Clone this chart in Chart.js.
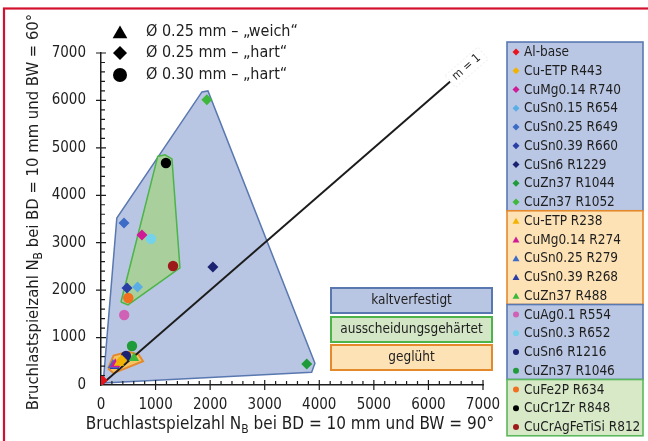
<!DOCTYPE html>
<html>
<head>
<meta charset="utf-8">
<script src="https://cdn.jsdelivr.net/npm/chart.js@4/dist/chart.umd.min.js"></script>
<style>
  html, body { margin: 0; padding: 0; background: #ffffff; }
  #wrap { position: relative; width: 648px; height: 441px; overflow: hidden; }
  canvas { display: block; }
</style>
</head>
<body>
<div id="wrap"><canvas id="c" width="648" height="441"></canvas></div>
<script>
// ---- axis setup ----
const axisMax = 7000;
const majorStep = 1000;
const minorStep = 200;

// ---- material series (one point each) ----
const seriesNames = [
  'Al-base', 'Cu-ETP R443', 'CuMg0.14 R740', 'CuSn0.15 R654', 'CuSn0.25 R649',
  'CuSn0.39 R660', 'CuSn6 R1229', 'CuZn37 R1044', 'CuZn37 R1052',
  'Cu-ETP R238', 'CuMg0.14 R274', 'CuSn0.25 R279', 'CuSn0.39 R268', 'CuZn37 R488',
  'CuAg0.1 R554', 'CuSn0.3 R652', 'CuSn6 R1216', 'CuZn37 R1046',
  'CuFe2P R634', 'CuCr1Zr R848', 'CuCrAgFeTiSi R812'
];
// N_B at BW = 90°
const seriesX = [20, 380, 750, 670, 421, 476, 2050, 3770, 1940,
                 330, 260, 220, 250, 604,
                 425, 916, 458, 568,
                 500, 1190, 1320];
// N_B at BW = 60°
const seriesY = [100, 520, 3165, 2067, 3418, 2046, 2490, 443, 6013,
                 470, 440, 422, 400, 570,
                 1476, 3080, 612, 823,
                 1835, 4680, 2510];

// legend groups (number of entries per framed block)
const groupSizes = [9, 5, 4, 3];

// ---- treatment regions (polygon corners) ----
const kaltX = [40, 290, 1850, 1960, 3920, 3860, 40];
const kaltY = [40, 3520, 6180, 6200, 460, 270, 40];
const ausX = [366, 1040, 1172, 1300, 1447, 495, 366];
const ausY = [1751, 4820, 4852, 4768, 2468, 1688, 1751];
const geglX = [130, 230, 500, 690, 770, 230, 130];
const geglY = [350, 620, 700, 640, 500, 250, 350];
const regionLabels = ['kaltverfestigt', 'ausscheidungsgehärtet', 'geglüht'];

// ---- reference line m = 1 ----
const diagX = [0, 6400];
const diagY = [0, 6400];
const diagLabel = 'm = 1';
const diagLabelAt = 6700;

// ---- marker-shape key ----
const symbolTexts = ['Ø 0.25 mm – „weich“', 'Ø 0.25 mm – „hart“', 'Ø 0.30 mm – „hart“'];

// ---- axis titles (with subscript) ----
const xTitle = [['Bruchlastspielzahl N', false], ['B', true], [' bei BD = 10 mm und BW = 90°', false]];
const yTitle = [['Bruchlastspielzahl N', false], ['B', true], [' bei BD = 10 mm und BW = 60°', false]];

// ---- styles ----
const seriesColors = [
  '#e8141c', '#f2b300', '#d01b97', '#5aaee6', '#3c6cc6', '#2a3fa6', '#1b2272', '#1f9b3a', '#3db83d',
  '#f2b300', '#d01b97', '#3c6cc6', '#2a3fa6', '#3db83d',
  '#cf62b4', '#74d2ea', '#1b2272', '#1f9b3a',
  '#f07020', '#000000', '#9e1a1a'
];
const seriesShapes = [
  'rectRot', 'rectRot', 'rectRot', 'rectRot', 'rectRot', 'rectRot', 'rectRot', 'rectRot', 'rectRot',
  'triangle', 'triangle', 'triangle', 'triangle', 'triangle',
  'circle', 'circle', 'circle', 'circle', 'circle', 'circle', 'circle'
];
const shapeRadius = { rectRot: 5.5, triangle: 6, circle: 5.2 };
const legendRadius = { rectRot: 3.5, triangle: 4, circle: 3 };

const kaltFill = '#b9c6e3', kaltLine = '#5a78b0';
const ausFill = '#a9d09c', ausLine = '#4cb448';
const geglFill = '#f6c563', geglLine = '#e58a2c';
const groupFills = ['#bac7e4', '#fde2b6', '#bac7e4', '#d7e9c7'];
const groupLines = ['#5a78b0', '#e58a2c', '#5a78b0', '#5cb85c'];
const FONT = '"DejaVu Sans Condensed", "DejaVu Sans", Verdana, sans-serif';
const TEXT = '#1e1e1e';

const toPts = (xs, ys) => xs.map((x, i) => ({ x: x, y: ys[i] }));

const datasets = [];
seriesNames.forEach((name, i) => {
  datasets.push({
    label: name,
    data: [{ x: seriesX[i], y: seriesY[i] }],
    pointStyle: seriesShapes[i],
    pointRadius: shapeRadius[seriesShapes[i]],
    backgroundColor: seriesColors[i],
    borderColor: seriesColors[i],
    pointBorderWidth: 0,
    showLine: false,
    order: 1
  });
});
datasets.push({
  label: diagLabel, data: toPts(diagX, diagY), showLine: true, pointRadius: 0,
  borderColor: '#1c1c1c', borderWidth: 2, fill: false, order: 5
});
[[geglX, geglY, geglFill, geglLine, 6], [ausX, ausY, ausFill, ausLine, 7], [kaltX, kaltY, kaltFill, kaltLine, 8]]
  .forEach(([xs, ys, f, l, o], k) => {
    datasets.push({
      label: regionLabels[2 - k], data: toPts(xs, ys), showLine: true, pointRadius: 0,
      borderColor: l, borderWidth: k === 0 ? 2 : 1.5, backgroundColor: f, fill: 'shape', tension: 0, order: o
    });
  });

function shapePath(ctx, shape, x, y, r) {
  ctx.beginPath();
  if (shape === 'circle') {
    ctx.arc(x, y, r, 0, Math.PI * 2);
  } else if (shape === 'rectRot') {
    ctx.moveTo(x, y - r); ctx.lineTo(x + r, y); ctx.lineTo(x, y + r); ctx.lineTo(x - r, y);
  } else {
    let a = 0;
    ctx.moveTo(x + Math.sin(a) * r, y - Math.cos(a) * r);
    a += Math.PI * 2 / 3; ctx.lineTo(x + Math.sin(a) * r, y - Math.cos(a) * r);
    a += Math.PI * 2 / 3; ctx.lineTo(x + Math.sin(a) * r, y - Math.cos(a) * r);
  }
  ctx.closePath();
}

function drawRichText(ctx, parts, cx, cy, size) {
  const main = size + 'px ' + FONT, sub = Math.round(size * 0.7) + 'px ' + FONT;
  let total = 0;
  parts.forEach(([t, s]) => { ctx.font = s ? sub : main; total += ctx.measureText(t).width; });
  let x = cx - total / 2;
  ctx.textAlign = 'left';
  ctx.textBaseline = 'middle';
  parts.forEach(([t, s]) => {
    ctx.font = s ? sub : main;
    ctx.fillText(t, x, s ? cy + size * 0.3 : cy);
    x += ctx.measureText(t).width;
  });
}

const decor = {
  id: 'decor',
  afterDraw(chart) {
    const ctx = chart.ctx;
    const xs = chart.scales.x, ys = chart.scales.y;
    const x0 = xs.getPixelForValue(0), y0 = ys.getPixelForValue(0);
    ctx.save();

    // tick marks: majors cross the axis, minors point inward
    ctx.strokeStyle = '#1c1c1c';
    ctx.lineWidth = 1.2;
    ctx.beginPath();
    for (let v = minorStep; v <= axisMax; v += minorStep) {
      const major = v % majorStep === 0;
      const px = xs.getPixelForValue(v), py = ys.getPixelForValue(v);
      if (major) {
        ctx.moveTo(px, y0 - 5); ctx.lineTo(px, y0 + 5);
        ctx.moveTo(x0 - 5, py); ctx.lineTo(x0 + 5, py);
      } else {
        ctx.moveTo(px, y0 - 4); ctx.lineTo(px, y0);
        ctx.moveTo(x0, py); ctx.lineTo(x0 + 4, py);
      }
    }
    ctx.stroke();

    // label of the reference line
    const lx = xs.getPixelForValue(diagLabelAt), ly = ys.getPixelForValue(diagLabelAt);
    const ang = Math.atan2(ys.getPixelForValue(diagY[1]) - y0, xs.getPixelForValue(diagX[1]) - x0);
    ctx.translate(lx, ly);
    ctx.rotate(ang);
    ctx.font = '12px ' + FONT;
    const tw = ctx.measureText(diagLabel).width;
    ctx.fillStyle = '#ffffff';
    ctx.fillRect(-tw / 2 - 5, -8, tw + 10, 16);
    ctx.strokeStyle = '#f0f0f0';
    ctx.lineWidth = 1;
    ctx.setLineDash([2, 2]);
    ctx.strokeRect(-tw / 2 - 5, -8, tw + 10, 16);
    ctx.setLineDash([]);
    ctx.fillStyle = TEXT;
    ctx.textAlign = 'center';
    ctx.textBaseline = 'middle';
    ctx.fillText(diagLabel, 0, 0);
    ctx.setTransform(1, 0, 0, 1, 0, 0);

    // axis titles
    ctx.fillStyle = TEXT;
    drawRichText(ctx, xTitle, 290, 425, 17);
    ctx.save();
    ctx.translate(34, 212);
    ctx.rotate(-Math.PI / 2);
    drawRichText(ctx, yTitle, 0, 0, 16.5);
    ctx.restore();

    // marker-shape key
    const keyShapes = ['triangle', 'rectRot', 'circle'];
    const keyR = [8.5, 7, 7];
    const keyY = [32, 53, 75];
    keyShapes.forEach((s, i) => {
      ctx.fillStyle = '#000000';
      shapePath(ctx, s, 120, keyY[i] + (s === 'triangle' ? 2 : 0), keyR[i]);
      ctx.fill();
      ctx.fillStyle = TEXT;
      ctx.font = '16px ' + FONT;
      ctx.textAlign = 'left';
      ctx.textBaseline = 'middle';
      ctx.fillText(symbolTexts[i], 146, keyY[i]);
    });

    // region label boxes
    const boxFills = [kaltFill, '#d3e6c6', '#fde2b6'];
    const boxLines = [kaltLine, ausLine, geglLine];
    const boxTops = [288, 317, 345];
    regionLabels.forEach((t, i) => {
      ctx.fillStyle = boxFills[i];
      ctx.fillRect(331, boxTops[i], 161, 25);
      ctx.strokeStyle = boxLines[i];
      ctx.lineWidth = 2;
      ctx.strokeRect(331, boxTops[i], 161, 25);
      ctx.fillStyle = TEXT;
      ctx.font = '13.5px ' + FONT;
      ctx.textAlign = 'center';
      ctx.textBaseline = 'middle';
      ctx.fillText(t, 411.5, boxTops[i] + 12.5);
    });

    // series legend in framed blocks
    const lgLeft = 507, lgW = 136, rowH = 18.75, firstRow = 52;
    let idx = 0;
    groupSizes.forEach((n, g) => {
      const top = firstRow + (idx - 0.5) * rowH - 0.6;
      const h = n * rowH;
      ctx.fillStyle = groupFills[g];
      ctx.fillRect(lgLeft, top, lgW, h);
      ctx.strokeStyle = groupLines[g];
      ctx.lineWidth = 1.6;
      ctx.strokeRect(lgLeft, top, lgW, h);
      idx += n;
    });
    seriesNames.forEach((name, i) => {
      const cy = firstRow + i * rowH;
      ctx.fillStyle = seriesColors[i];
      shapePath(ctx, seriesShapes[i], 516, cy + (seriesShapes[i] === 'triangle' ? 1 : 0), legendRadius[seriesShapes[i]]);
      ctx.fill();
      ctx.fillStyle = TEXT;
      ctx.font = '13.5px ' + FONT;
      ctx.textAlign = 'left';
      ctx.textBaseline = 'middle';
      ctx.fillText(name, 524, cy + 0.5);
    });

    // outer frame
    ctx.strokeStyle = '#d2112e';
    ctx.lineWidth = 2.2;
    ctx.strokeRect(4, 8.5, 700, 500);
    ctx.restore();
  }
};

const tickFont = { family: FONT, size: 15 };
const plainNumber = v => String(v);
new Chart(document.getElementById('c'), {
  type: 'scatter',
  data: { datasets: datasets },
  options: {
    responsive: false,
    animation: false,
    devicePixelRatio: 1,
    layout: { padding: { left: 0, top: 53, right: 165, bottom: 0 } },
    plugins: {
      legend: { display: false },
      tooltip: { enabled: false },
      filler: { drawTime: 'beforeDatasetDraw' }
    },
    scales: {
      x: {
        type: 'linear', min: 0, max: axisMax,
        ticks: { stepSize: majorStep, color: TEXT, font: tickFont, padding: 11, maxRotation: 0, callback: plainNumber },
        grid: { display: false, drawTicks: false },
        border: { display: true, color: '#1c1c1c', width: 1.5 },
        afterFit: s => { s.height = 56; }
      },
      y: {
        type: 'linear', min: 0, max: axisMax,
        ticks: { stepSize: majorStep, color: TEXT, font: tickFont, padding: 15, callback: plainNumber },
        grid: { display: false, drawTicks: false },
        border: { display: true, color: '#1c1c1c', width: 1.5 },
        afterFit: s => { s.width = 101; }
      }
    }
  },
  plugins: [decor]
});
</script>
</body>
</html>
